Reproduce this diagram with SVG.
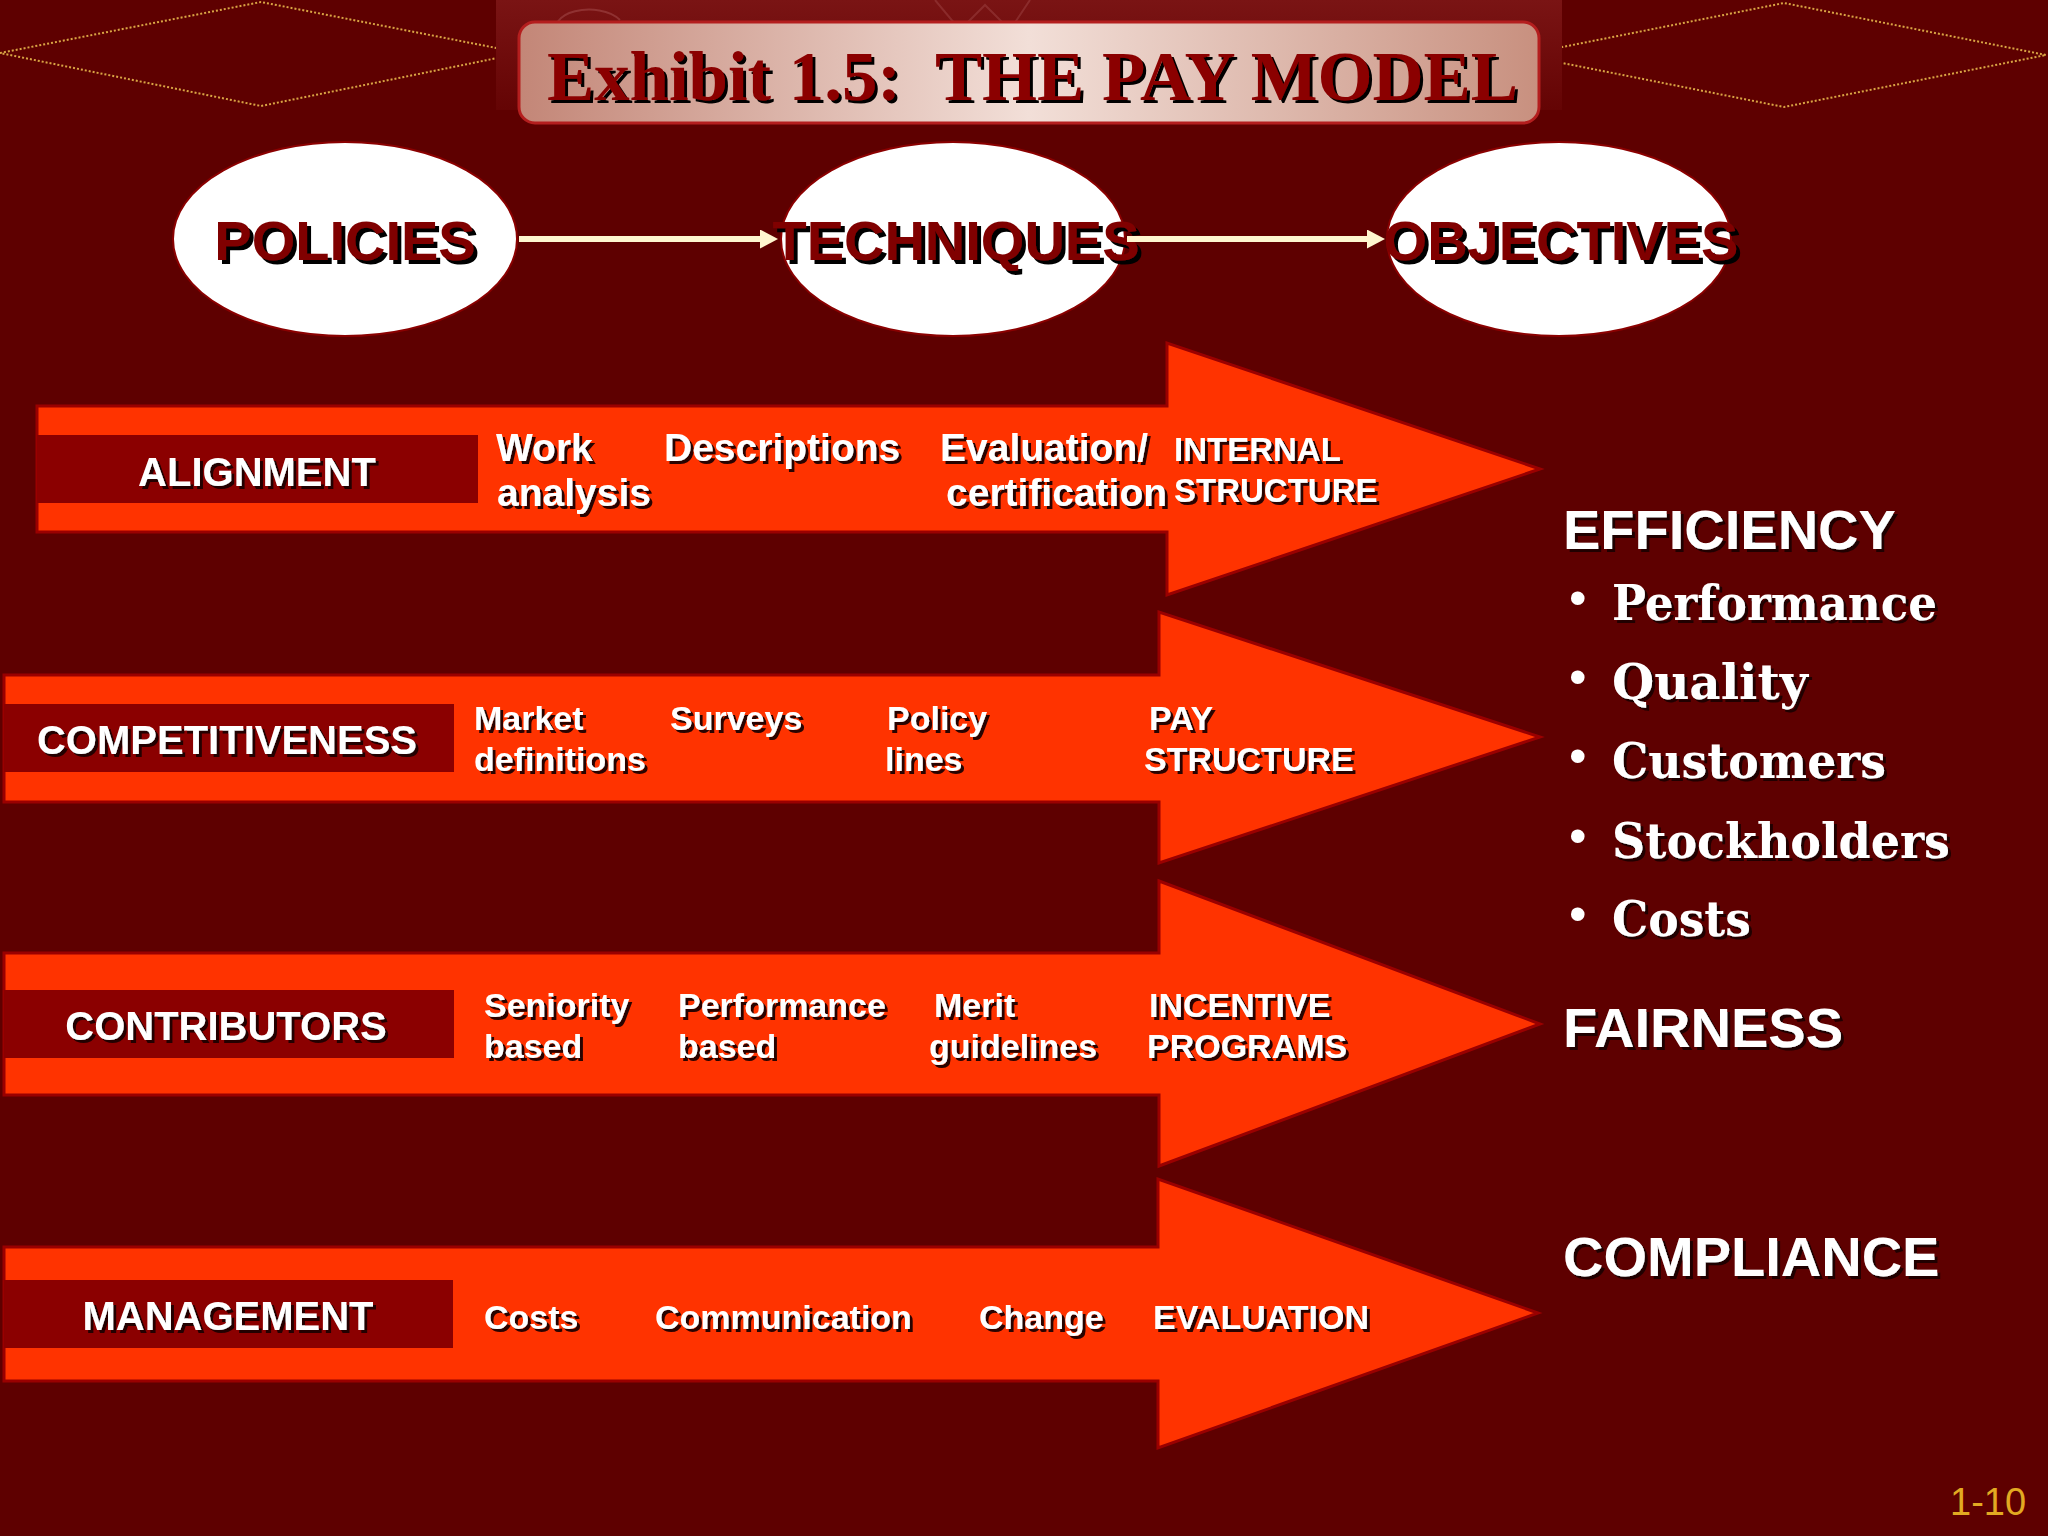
<svg xmlns="http://www.w3.org/2000/svg" width="2048" height="1536" viewBox="0 0 2048 1536">
<style>
.sans{font-family:"Liberation Sans",Arial,sans-serif;font-weight:bold}
.wt{fill:#ffffff;filter:url(#shw)}
.lbl{font-size:40px;text-anchor:middle}
.it1{font-size:39px}
.it2{font-size:34px}
.head{font-size:56px;fill:#800000;text-anchor:middle;filter:url(#shd)}
.obj{font-size:56px}
.ser{font-family:"DejaVu Serif","Liberation Serif",serif;font-weight:bold;font-size:49px;fill:#ffffff;filter:url(#shw)}
.bul{font-family:"Liberation Sans",Arial,sans-serif;font-size:50px;fill:#ffffff}
.arrow{fill:#ff3300;stroke:#9a0000;stroke-width:3;stroke-linejoin:miter}
.lblbox{fill:#8b0000}
.oval{fill:#ffffff;stroke:#8b0000;stroke-width:2}
.conn{stroke:#fff6cf;stroke-width:6;fill:none;marker-end:url(#ah)}
.dots{fill:none;stroke:#d9a444;stroke-width:2;stroke-dasharray:2 2}
</style>
<defs>
<filter id="shw" x="-5%" y="-10%" width="115%" height="130%">
<feDropShadow dx="3" dy="3" stdDeviation="0.6" flood-color="#1a0000" flood-opacity="0.95"/>
</filter>
<filter id="shd" x="-5%" y="-10%" width="115%" height="130%">
<feDropShadow dx="4" dy="4" stdDeviation="0.5" flood-color="#000000" flood-opacity="1"/>
</filter>
<filter id="sht" x="-5%" y="-10%" width="115%" height="130%">
<feDropShadow dx="3" dy="3" stdDeviation="0.4" flood-color="#000000" flood-opacity="1"/>
</filter>
<linearGradient id="tg" x1="0" y1="0" x2="1" y2="0">
<stop offset="0" stop-color="#c38677"/>
<stop offset="0.5" stop-color="#f2dfd8"/>
<stop offset="1" stop-color="#c8907f"/>
</linearGradient>
<linearGradient id="strip" x1="0" y1="0" x2="0" y2="1">
<stop offset="0" stop-color="#7a1414"/>
<stop offset="1" stop-color="#640404"/>
</linearGradient>
<marker id="ah" markerUnits="userSpaceOnUse" markerWidth="20" markerHeight="20" refX="2" refY="9.5" orient="auto">
<path d="M0,0 L18,9.5 L0,19 Z" fill="#fff6cf"/>
</marker>
</defs>

<rect x="0" y="0" width="2048" height="1536" fill="#5e0000"/>

<g id="decoration">
<polygon class="dots" points="0,53 261,2 522,53 261,106"/>
<polygon class="dots" points="1522,55 1784,3 2046,55 1784,107"/>
<rect x="496" y="0" width="1066" height="110" fill="url(#strip)"/>
<path d="M560,40 C540,10 600,0 620,20" fill="none" stroke="#a85050" stroke-width="2" opacity="0.5"/>
<path d="M935,0 L960,30 L985,5 L1010,30 L1030,0" fill="none" stroke="#a85050" stroke-width="2" opacity="0.4"/>
</g>

<g id="title">
<rect x="519" y="22" width="1020" height="101" rx="16" ry="16" fill="url(#tg)" stroke="#b41e1e" stroke-width="3"/>
<text x="547" y="100" font-family="'Liberation Serif','Times New Roman',serif" font-weight="bold" font-size="70" fill="#8b0000" textLength="971" lengthAdjust="spacingAndGlyphs" filter="url(#sht)" xml:space="preserve">Exhibit 1.5:  THE PAY MODEL</text>
</g>

<g id="node-policies">
<ellipse class="oval" cx="345" cy="239" rx="172" ry="97"/>
<text class="sans head" x="345" y="260">POLICIES</text>
</g>
<g id="node-techniques">
<ellipse class="oval" cx="953" cy="239" rx="172" ry="97"/>
<text class="sans head" x="956" y="260">TECHNIQUES</text>
</g>
<g id="node-objectives">
<ellipse class="oval" cx="1559" cy="239" rx="172" ry="97"/>
<text class="sans head" x="1561" y="260">OBJECTIVES</text>
</g>

<g id="connectors">
<line class="conn" x1="519" y1="239" x2="762" y2="239"/>
<line class="conn" x1="1127" y1="239" x2="1369" y2="239"/>
</g>

<g id="row-alignment">
<polygon class="arrow" points="37,406 1167,406 1167,343 1540,469 1167,595 1167,532 37,532"/>
<rect class="lblbox" x="37" y="435" width="441" height="68"/>
<text class="sans wt lbl" x="257" y="486">ALIGNMENT</text>
<text class="sans wt it1" x="496" y="461">Work</text>
<text class="sans wt it1" x="497" y="506">analysis</text>
<text class="sans wt it1" x="664" y="461">Descriptions</text>
<text class="sans wt it1" x="940" y="461">Evaluation/</text>
<text class="sans wt it1" x="946" y="506">certification</text>
<text class="sans wt" font-size="33" x="1174" y="461">INTERNAL</text>
<text class="sans wt" font-size="33" x="1174" y="502">STRUCTURE</text>
</g>

<g id="row-competitiveness">
<polygon class="arrow" points="4,675 1159,675 1159,612 1540,737 1159,863 1159,802 4,802"/>
<rect class="lblbox" x="4" y="704" width="450" height="68"/>
<text class="sans wt lbl" font-size="39" x="227" y="754">COMPETITIVENESS</text>
<text class="sans wt it2" x="474" y="730">Market</text>
<text class="sans wt it2" x="474" y="771">definitions</text>
<text class="sans wt it2" x="670" y="730">Surveys</text>
<text class="sans wt it2" x="887" y="730">Policy</text>
<text class="sans wt it2" x="885" y="771">lines</text>
<text class="sans wt it2" x="1149" y="730">PAY</text>
<text class="sans wt it2" x="1144" y="771">STRUCTURE</text>
</g>

<g id="row-contributors">
<polygon class="arrow" points="4,953 1159,953 1159,881 1540,1024 1159,1166 1159,1095 4,1095"/>
<rect class="lblbox" x="4" y="990" width="450" height="68"/>
<text class="sans wt lbl" x="226" y="1040">CONTRIBUTORS</text>
<text class="sans wt it2" x="484" y="1017">Seniority</text>
<text class="sans wt it2" x="484" y="1058">based</text>
<text class="sans wt it2" x="678" y="1017">Performance</text>
<text class="sans wt it2" x="678" y="1058">based</text>
<text class="sans wt it2" x="934" y="1017">Merit</text>
<text class="sans wt it2" x="929" y="1058">guidelines</text>
<text class="sans wt it2" x="1149" y="1017">INCENTIVE</text>
<text class="sans wt it2" x="1147" y="1058">PROGRAMS</text>
</g>

<g id="row-management">
<polygon class="arrow" points="4,1247 1158,1247 1158,1179 1538,1313 1158,1448 1158,1381 4,1381"/>
<rect class="lblbox" x="4" y="1280" width="449" height="68"/>
<text class="sans wt lbl" x="228" y="1330">MANAGEMENT</text>
<text class="sans wt it2" x="484" y="1329">Costs</text>
<text class="sans wt it2" x="655" y="1329">Communication</text>
<text class="sans wt it2" x="979" y="1329">Change</text>
<text class="sans wt it2" x="1153" y="1329">EVALUATION</text>
</g>

<g id="objectives-list">
<text class="sans wt obj" x="1563" y="549">EFFICIENCY</text>
<text class="bul" x="1569" y="615">•</text>
<text class="ser" x="1612" y="620" textLength="325" lengthAdjust="spacingAndGlyphs">Performance</text>
<text class="bul" x="1569" y="694">•</text>
<text class="ser" x="1612" y="699" textLength="196" lengthAdjust="spacingAndGlyphs">Quality</text>
<text class="bul" x="1569" y="773">•</text>
<text class="ser" x="1612" y="778" textLength="274" lengthAdjust="spacingAndGlyphs">Customers</text>
<text class="bul" x="1569" y="853">•</text>
<text class="ser" x="1612" y="858" textLength="338" lengthAdjust="spacingAndGlyphs">Stockholders</text>
<text class="bul" x="1569" y="931">•</text>
<text class="ser" x="1612" y="936" textLength="139" lengthAdjust="spacingAndGlyphs">Costs</text>
<text class="sans wt obj" x="1563" y="1047">FAIRNESS</text>
<text class="sans wt obj" x="1563" y="1276">COMPLIANCE</text>
</g>

<text x="1950" y="1515" font-family="'Liberation Sans',Arial,sans-serif" font-size="38" fill="#e2aa22">1-10</text>
</svg>
